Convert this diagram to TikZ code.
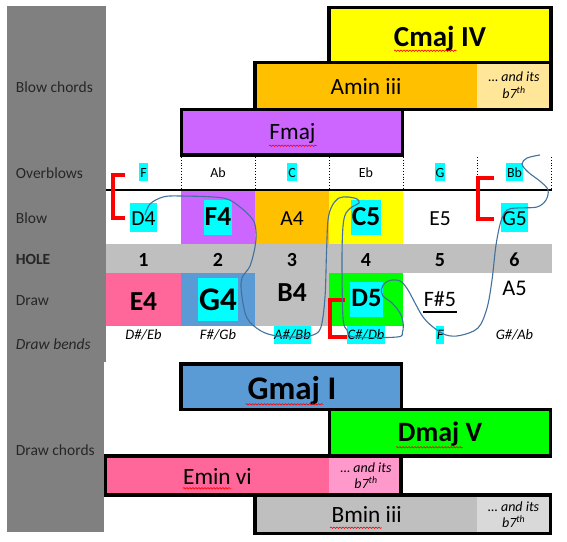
\documentclass[tikz,border=0pt]{standalone}
\usepackage{fontspec}
\setmainfont{Carlito}
\usetikzlibrary{decorations.pathmorphing}
\definecolor{gcol}{HTML}{808080}
\definecolor{hlc}{HTML}{00FFFF}
\definecolor{yel}{HTML}{FFFF00}
\definecolor{ora}{HTML}{FFC000}
\definecolor{oral}{HTML}{FFE699}
\definecolor{pur}{HTML}{CC66FF}
\definecolor{blu}{HTML}{5B9BD5}
\definecolor{grn}{HTML}{00FF00}
\definecolor{pnk}{HTML}{FF6699}
\definecolor{pnkl}{HTML}{FF99CC}
\definecolor{gry}{HTML}{BFBFBF}
\definecolor{gryl}{HTML}{D9D9D9}
\definecolor{crv}{HTML}{41719C}
\definecolor{lbltxt}{HTML}{262626}
\begin{document}
\begin{tikzpicture}[x=1bp,y=-1bp,
  lbl/.style={anchor=base west, text=lbltxt, inner sep=0pt, font=\fontsize{15.5bp}{18bp}\selectfont},
  obn/.style={anchor=base, inner xsep=1bp, inner ysep=0pt, text height=15bp, text depth=3.5bp, font=\fontsize{14bp}{17bp}\selectfont},
  note/.style={anchor=base, inner xsep=1.5bp, inner ysep=0pt, text height=23bp, text depth=6bp, font=\fontsize{21.5bp}{26bp}\selectfont},
  noteb/.style={anchor=base, inner xsep=1bp, inner ysep=0pt, text height=26bp, text depth=9bp, font=\fontsize{27.5bp}{32bp}\selectfont\bfseries},
  num/.style={anchor=base, inner sep=0pt, font=\fontsize{20bp}{24bp}\selectfont\bfseries},
  bendtxt/.style={anchor=base, inner xsep=0.5bp, inner ysep=0pt, text height=12.6bp, text depth=5bp, font=\fontsize{14.5bp}{17bp}\selectfont\itshape},
  hl/.style={fill=hlc},
  chb/.style={anchor=base, inner sep=0pt, font=\bfseries},
  chr/.style={anchor=base, inner sep=0pt, font=\fontsize{23.3bp}{28bp}\selectfont},
  sev/.style={anchor=base, inner sep=0pt, font=\fontsize{14bp}{17bp}\selectfont\itshape},
  box/.style={draw=black, line width=3.3bp},
  brk/.style={draw=red, line width=4bp},
  spell/.style={draw=red, line width=0.6bp, decorate, decoration={snake, amplitude=0.7bp, segment length=3bp}},
  dots/.style={draw=black, dotted, line width=0.8bp}
]
\useasboundingbox (0,0) rectangle (567,542);

% grey label column
\fill[gcol] (7,6) rectangle (106,362);
\fill[gcol] (7,362) rectangle (104,532);
\node[lbl] (lblc) at (15.7,92.7) {Blow chords};
\node[lbl] (lbov) at (15.7,179) {Overblows};
\node[lbl] (lbbl) at (15.7,223.3) {Blow};
\node[lbl, font=\fontsize{15.5bp}{18bp}\selectfont\bfseries] (lbho) at (15.7,264.3) {HOLE};
\node[lbl] (lbdr) at (15.7,305.7) {Draw};
\node[lbl, font=\fontsize{15.5bp}{18bp}\selectfont\itshape] (lbbe) at (15.7,349.3) {Draw bends};
\node[lbl] (lbdc) at (15.7,455) {Draw chords};

% blow chord boxes
\fill[yel] (329,7.7) rectangle (551,62.7);
\fill[ora] (255,62.7) rectangle (477,109.3);
\fill[oral] (477,62.7) rectangle (551,109.3);
\fill[pur] (181.5,109.3) rectangle (402.7,155);
\draw[box] (329,7.7) rectangle (551,62.7);
\draw[box] (255,62.7) rectangle (551,109.3);
\draw[box] (181.5,109.3) rectangle (402.7,155);
\node[chb, font=\fontsize{29bp}{34bp}\selectfont\bfseries] (cmaj) at (440,46.7) {Cmaj IV};
\node[chr] (amin) at (366,95) {Amin iii};
\node[sev] (amin7a) at (514,81.7) {… and its};
\node[sev] (amin7b) at (514,98.3) {b7\textsuperscript{th}};
\node[chr] (fmaj) at (292.5,140) {Fmaj};
\draw[spell] (394,50.7) -- (456.7,50.7);
\draw[spell] (269,145.7) -- (317,145.7);

% grid rows
\fill[pur] (181,190) rectangle (255,244);
\fill[ora] (255,190) rectangle (329,244);
\fill[yel] (329,190) rectangle (403,244);
\fill[gry] (106,244) rectangle (552,272.7);
\fill[pnk] (106,272.7) rectangle (181,326);
\fill[blu] (181,272.7) rectangle (255,326);
\fill[gry] (255,272.7) rectangle (329,326);
\fill[grn] (329,272.7) rectangle (403,326);
\foreach \xx in {181,255,329,403,477,551.5} \draw[dots] (\xx,157) -- (\xx,189);
\draw[line width=2bp] (106,189.8) -- (552,189.8);

% overblows
\node[obn, hl] (ob1) at (143.5,177.7) {F};
\node[obn] (ob2) at (218,177.7) {Ab};
\node[obn, hl] (ob3) at (292,177.7) {C};
\node[obn] (ob4) at (366,177.7) {Eb};
\node[obn, hl] (ob5) at (440,177.7) {G};
\node[obn, hl] (ob6) at (514.5,177.7) {Bb};

% blow notes
\node[note, hl] (b1) at (143.5,226) {D4};
\node[noteb, hl] (b2) at (218,226) {F4};
\node[note] (b3) at (292,226) {A4};
\node[noteb, hl] (b4) at (366,226) {C5};
\node[note] (b5) at (440,226) {E5};
\node[note, hl] (b6) at (514.5,226) {G5};

% hole numbers
\node[num] (h1) at (143.5,266.7) {1};
\node[num] (h2) at (218,266.7) {2};
\node[num] (h3) at (292,266.7) {3};
\node[num] (h4) at (366,266.7) {4};
\node[num] (h5) at (440,266.7) {5};
\node[num] (h6) at (514.5,266.7) {6};

% draw notes
\node[noteb] (d1) at (143.5,310) {E4};
\node[noteb, hl, font=\fontsize{33bp}{38bp}\selectfont\bfseries, text height=32.7bp, text depth=10bp] (d2) at (218,310.7) {G4};
\node[noteb] (d3) at (292,301.7) {B4};
\node[noteb, hl, font=\fontsize{26.5bp}{31bp}\selectfont\bfseries, text height=25bp, text depth=10bp] (d4) at (366.5,306.7) {D5};
\node[note, font=\fontsize{22bp}{26bp}\selectfont] (d5) at (440,306.7) {F\#5};
\draw[line width=1.6bp] (423.3,311.7) -- (456.7,311.7);
\node[note, font=\fontsize{22.4bp}{27bp}\selectfont] (d6) at (514.5,295) {A5};

% draw bends
\node[bendtxt] (e1) at (143.5,339) {D\#/Eb};
\node[bendtxt] (e2) at (218,339) {F\#/Gb};
\node[bendtxt, hl] (e3) at (292.5,339) {A\#/Bb};
\node[bendtxt, hl] (e4) at (366,339) {C\#/Db};
\node[bendtxt, hl] (e5) at (440.3,339) {F};
\node[bendtxt] (e6) at (514.5,339) {G\#/Ab};

% red brackets
\draw[brk] (125,174.7) -- (113.3,174.7) -- (113.3,218) -- (125,218);
\draw[brk] (494,178) -- (478.3,178) -- (478.3,219) -- (494,219);
\draw[brk] (345,299.7) -- (330,299.7) -- (330,337) -- (346.5,337);

% draw chord boxes
\fill[blu] (181,364) rectangle (401.7,409.3);
\fill[grn] (329.3,409.3) rectangle (550.3,456);
\fill[pnk] (105.7,456) rectangle (329,495);
\fill[pnkl] (329,456) rectangle (401,495);
\fill[gry] (255,495) rectangle (477,533.3);
\fill[gryl] (477,495) rectangle (550.3,533.3);
\draw[box] (181,364) rectangle (401.7,409.3);
\draw[box] (329.3,409.3) rectangle (550.3,456);
\draw[box] (105.7,456) rectangle (401,495);
\draw[box] (255,495) rectangle (550.3,533.3);
\node[chb, font=\fontsize{33bp}{38bp}\selectfont\bfseries] (gmaj) at (292,399) {Gmaj I};
\node[chb, font=\fontsize{28bp}{33bp}\selectfont\bfseries] (dmaj) at (440,441.7) {Dmaj V};
\node[chr] (emin) at (217.5,484) {Emin vi};
\node[sev] (emin7a) at (366,472.3) {… and its};
\node[sev] (emin7b) at (366,488.3) {b7\textsuperscript{th}};
\node[chr] (bmin) at (366.7,522.3) {Bmin iii};
\node[sev] (bmin7a) at (513.7,511) {… and its};
\node[sev] (bmin7b) at (513.7,527.7) {b7\textsuperscript{th}};
\draw[spell] (245.7,404.3) -- (323.3,404.3);
\draw[spell] (396,447.3) -- (462.7,447.3);
\draw[spell] (183,488.3) -- (231,488.3);
\draw[spell] (330,527.7) -- (381.7,527.7);

% freehand curve
\draw[crv, line width=1.1bp] plot[smooth, tension=0.55] coordinates {
(145,215) (150,204) (163,197) (180,196) (223,198) (240,207) (253,220) (256,232)
(255,247) (250,266) (242,278) (241.5,293) (247,318) (261,331) (277,336) (297,337)
(313,335) (321,327) (325,297) (326.5,253) (328,220) (332,206) (339,198) (348,197)
(357,199) (359,203) (352,207) (346,213) (343,226) (342,260) (343,318) (347,330)
(354,337) (397,337) (402.5,332) (403,322) (400,313) (392,303) (383,296) (381.5,289)
(385,283) (392,280) (401,281.5) (408,290) (415,303) (423,317) (433,327) (446,335)
(460,335.5) (478,328) (487,308) (492,280) (496,245) (501,221) (507,210) (517,208)
(537,207) (546,200) (548,190) (541,182) (528,172) (522,164) (527,158) (540,155)};
\end{tikzpicture}
\end{document}
